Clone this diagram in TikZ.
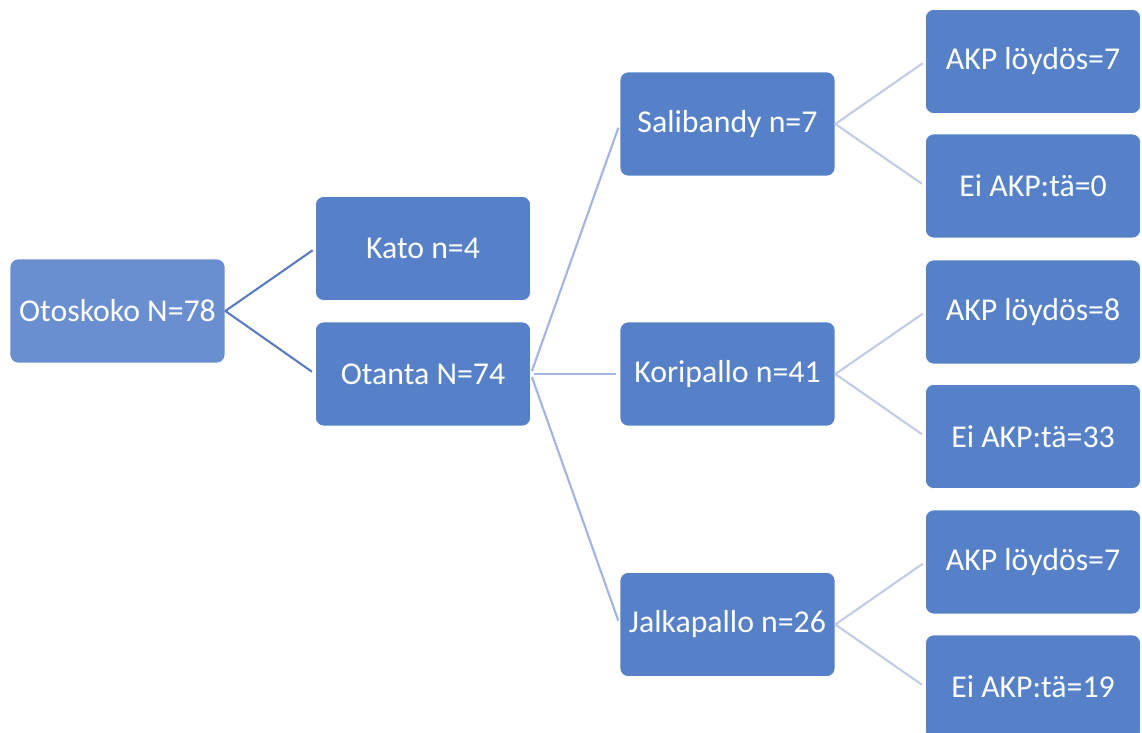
\documentclass[tikz,border=0pt]{standalone}
\usepackage{fontspec}
\setmainfont{Carlito}
\definecolor{boxblue}{HTML}{5681C8}
\definecolor{rootblue}{HTML}{6A8FD0}
\definecolor{lineA}{HTML}{5B7CC4}
\definecolor{lineB}{HTML}{A3B4DF}
\definecolor{lineC}{HTML}{C3CCE6}
\tikzset{
  box/.style={rectangle, rounded corners=0.16cm, fill=boxblue, draw=white, line width=0.4pt,
    minimum width=4.3cm, minimum height=2.08cm, text=white, font=\fontsize{18.1}{21}\selectfont, inner sep=2pt},
  link/.style={line width=1.2pt, shorten <=0.06cm, shorten >=0.08cm}
}
\begin{document}
\begin{tikzpicture}[x=0.02cm, y=-0.02cm, line join=round]
	\useasboundingbox (0,0) rectangle (1142,733);
	\clip (0,0) rectangle (1142,733);
	% levels
	\node[box, fill=rootblue] (root) at (117.5,311) {Otoskoko N=78};
	\node[box] (kato) at (423,248.5) {Kato n=4};
	\node[box] (otanta) at (423,374) {Otanta N=74};
	\node[box] (sali) at (727.5,124) {Salibandy n=7};
	\node[box] (kori) at (727.5,374) {Koripallo n=41};
	\node[box] (jalka) at (727.5,624.5) {Jalkapallo n=26};
	\node[box] (sali1) at (1033,61.5) {AKP löydös=7};
	\node[box] (sali0) at (1033,186) {Ei AKP:tä=0};
	\node[box] (kori1) at (1033,312) {AKP löydös=8};
	\node[box] (kori0) at (1033,436.5) {Ei AKP:tä=33};
	\node[box] (jalka1) at (1033,562) {AKP löydös=7};
	\node[box] (jalka0) at (1033,687) {Ei AKP:tä=19};
	% connectors
	\draw[link, lineA] (kato.west) -- (root.east) -- (otanta.west);
	\foreach \c in {sali, kori, jalka} {\draw[link, lineB] (otanta.east) -- (\c.west);}
	\foreach \c in {sali, kori, jalka} {\draw[link, lineC] (\c1.west) -- (\c.east) -- (\c0.west);}
\end{tikzpicture}
\end{document}
